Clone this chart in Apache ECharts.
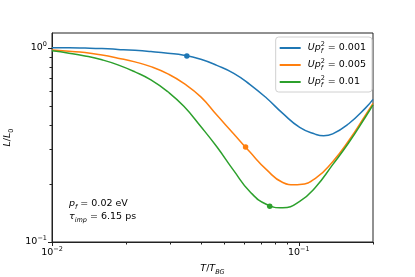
<!DOCTYPE html>
<html><head><meta charset="utf-8">
<script src="https://cdn.jsdelivr.net/npm/echarts@6/dist/echarts.min.js"></script>
<style>html,body{margin:0;padding:0;background:#fff}#c{width:415px;height:277px}</style>
</head><body><div id="c"></div><script>
// ---- data ----
const xMajorTicks = [0.01, 0.1];
const xMinorTicks = [0.02, 0.03, 0.04, 0.05, 0.06, 0.07, 0.08, 0.09, 0.2];
const yMajorTicks = [0.1, 1];
const yMinorTicks = [0.2, 0.3, 0.4, 0.5, 0.6, 0.7, 0.8, 0.9];
const seriesLabels = ['0.001', '0.005', '0.01'];
const xBlue = [0.01,0.01172,0.0136,0.01594,0.0185,0.02168,0.02517,0.02949,0.03423,0.0401,0.04656,0.05455,0.06331,0.0742,0.08615,0.1009,0.1172,0.1262,0.1373,0.1594,0.1867,0.2];
const curveU001 = [1.0,0.999,0.995,0.989,0.980,0.969,0.955,0.937,0.915,0.871,0.811,0.738,0.648,0.549,0.459,0.389,0.358,0.352,0.360,0.406,0.490,0.542];
const xOrange = [0.01,0.01172,0.0136,0.01594,0.0185,0.02168,0.02517,0.02949,0.03423,0.0401,0.04656,0.05455,0.06331,0.0742,0.08615,0.0963,0.1009,0.1172,0.1373,0.1594,0.1867,0.2];
const curveU005 = [0.974,0.959,0.944,0.916,0.883,0.845,0.799,0.733,0.655,0.558,0.450,0.360,0.291,0.235,0.2025,0.197,0.1975,0.213,0.259,0.332,0.451,0.517];
const xGreen = [0.01,0.01172,0.0136,0.01594,0.0185,0.02168,0.02517,0.02949,0.03423,0.0401,0.04656,0.05455,0.06331,0.0742,0.08615,0.1009,0.1172,0.1373,0.1594,0.1867,0.2];
const curveU01 = [0.963,0.937,0.907,0.866,0.816,0.751,0.683,0.593,0.499,0.393,0.309,0.233,0.182,0.156,0.150,0.162,0.192,0.250,0.324,0.441,0.508];
const markerX = [0.0352, 0.0609, 0.0763];
const markerY = [0.907, 0.308, 0.1528];
const colors = ['#1f77b4', '#ff7f0e', '#2ca02c'];

const X_MIN = 0.01, X_MAX = 0.2, Y_MIN = 0.1, Y_MAX = 1.19;
const FF = 'DejaVu Sans';
const FS = 9.5;
const rich = {
  i: {fontFamily: FF, fontStyle: 'italic', fontSize: FS, color: '#000', lineHeight: 14},
  r: {fontFamily: FF, fontSize: FS, color: '#000', lineHeight: 14},
  sup: {fontFamily: FF, fontSize: 6.5, color: '#000', verticalAlign: 'top', lineHeight: 9},
  sub: {fontFamily: FF, fontSize: 6.5, color: '#000', verticalAlign: 'bottom', lineHeight: 9},
  subi: {fontFamily: FF, fontStyle: 'italic', fontSize: 6.5, color: '#000', verticalAlign: 'bottom', lineHeight: 9},
  subi0: {fontFamily: FF, fontStyle: 'italic', fontSize: 6.5, color: '#000', verticalAlign: 'bottom', lineHeight: 9, width: 0},
  supr: {fontFamily: FF, fontSize: 6.5, color: '#000', verticalAlign: 'top', lineHeight: 9}
};
function powLabel(v) {
  const l = Math.log10(v), e = Math.round(l);
  if (Math.abs(l - e) > 1e-6) return '';
  return '{r|10}{sup|' + (e < 0 ? '\u2212' + (-e) : e) + '}';
}
const curves = [[xBlue, curveU001], [xOrange, curveU005], [xGreen, curveU01]];
const lineSeries = curves.map((c, k) => ({
  name: seriesLabels[k], type: 'line', data: c[0].map((x, j) => [x, c[1][j]]), smooth: 0.5, showSymbol: false,
  lineStyle: {color: colors[k], width: 1.5}, itemStyle: {color: colors[k]}, z: 3
}));
const dotSeries = markerX.map((x, k) => ({
  type: 'scatter', data: [[x, markerY[k]]], symbolSize: 5.5, itemStyle: {color: colors[k], opacity: 1}, z: 4
}));

const textGraphics = [
  {id: 'ann1', type: 'text', left: 69, top: 199, style: {text: '{i|p}{subi|f}{r| = 0.02 eV}', rich: rich}},
  {id: 'ann2', type: 'text', left: 69, top: 211.5, style: {text: '{i|\u03c4}{subi|imp}{r| = 6.15 ps}', rich: rich}}
];

const option = {
  animation: false,
  color: colors,
  grid: {left: 52, right: 42, top: 33, bottom: 35, show: true, borderColor: '#222', borderWidth: 1,
         backgroundColor: '#fff', containLabel: false, outerBoundsMode: 'none'},
  legend: {
    orient: 'vertical', right: 43, top: 37, icon: 'rect', itemWidth: 21, itemHeight: 2,
    itemGap: 3, padding: [4, 6, 3, 4], borderColor: '#d0d0d0', borderWidth: 1, borderRadius: 3,
    backgroundColor: 'rgba(255,255,255,0.85)',
    data: seriesLabels,
    formatter: n => '{i|Up}{subi0|f}{supr|2}{r| = ' + n + '}',
    textStyle: {rich: rich, padding: [0, 0, 0, 2]}
  },
  xAxis: {
    type: 'log', logBase: 10, min: X_MIN, max: X_MAX, splitLine: {show: false},
    axisLine: {show: true, lineStyle: {color: '#222', width: 1}},
    axisTick: {show: false}, minorTick: {show: false},
    axisLabel: {formatter: powLabel, rich: rich, margin: 4, showMaxLabel: false},
    name: '{i|T}{r|/}{i|T}{subi|BG}', nameLocation: 'middle', nameGap: 20,
    nameTextStyle: {rich: rich}
  },
  yAxis: {
    type: 'log', logBase: 10, min: Y_MIN, max: Y_MAX, splitLine: {show: false},
    axisLine: {show: true, lineStyle: {color: '#222', width: 1}},
    axisTick: {show: false}, minorTick: {show: false},
    axisLabel: {formatter: powLabel, rich: rich, margin: 5, showMaxLabel: false},
    name: '{i|L}{r|/}{i|L}{sub|0}', nameLocation: 'middle', nameGap: 32, nameRotate: 90,
    nameTextStyle: {rich: rich}
  },
  graphic: textGraphics,
  series: lineSeries.concat(dotSeries)
};
const chart = echarts.init(document.getElementById('c'), null, {renderer: 'canvas'});
chart.setOption(option);

// tick marks placed through the chart's own axis scales
function tickLines(values, isX, len, tag) {
  return values.map((v, j) => {
    const p = chart.convertToPixel({gridIndex: 0}, isX ? [v, Y_MIN] : [X_MIN, v]);
    if (isX) {
      const x = Math.round(p[0]) + 0.5, y = Math.round(p[1]);
      return {id: tag + j, type: 'line', z: 100, shape: {x1: x, y1: y, x2: x, y2: y + len}, style: {stroke: '#222', lineWidth: 1}};
    }
    const x = Math.round(p[0]), y = Math.round(p[1]) + 0.5;
    return {id: tag + j, type: 'line', z: 100, shape: {x1: x, y1: y, x2: x - len, y2: y}, style: {stroke: '#222', lineWidth: 1}};
  });
}
chart.setOption({graphic: textGraphics.concat(
  tickLines(xMajorTicks, true, 4, 'xM'), tickLines(xMinorTicks, true, 2.5, 'xm'),
  tickLines(yMajorTicks, false, 4, 'yM'), tickLines(yMinorTicks, false, 2.5, 'ym'))});
</script></body></html>
